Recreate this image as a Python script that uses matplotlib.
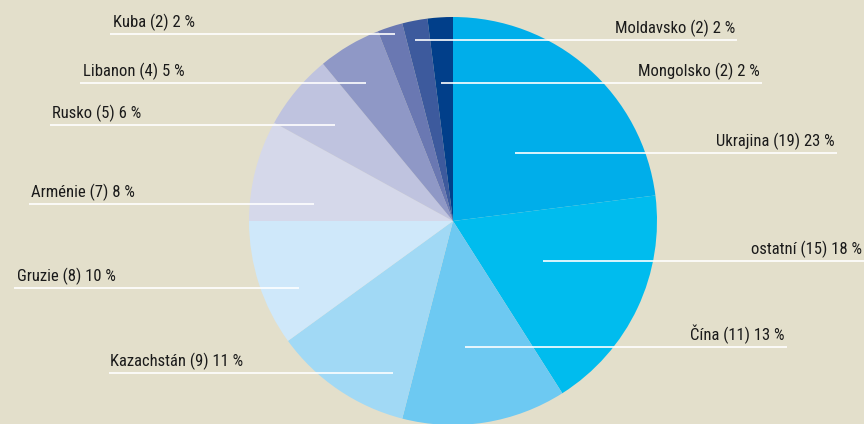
import matplotlib.pyplot as plt

# countries, counts and shares as printed on the chart
countries = ['Ukrajina', 'ostatní', 'Čína', 'Kazachstán', 'Gruzie', 'Arménie',
             'Rusko', 'Libanon', 'Kuba', 'Moldavsko', 'Mongolsko']
counts = [19, 15, 11, 9, 8, 7, 5, 4, 2, 2, 2]
shares = [23, 18, 13, 11, 10, 8, 6, 5, 2, 2, 2]

colors = ['#00AEEA', '#00BCEE', '#6DC9F2', '#A1D9F5', '#CFE8FA', '#D5D8EA',
          '#BFC3DF', '#8F98C6', '#6A78B2', '#3D5A9D', '#013F8A']

# label layout in pixels: (text anchor x, line y, line start x, line end x, align)
label_pos = {
    'Ukrajina':   (835, 153, 515, 837, 'right'),
    'ostatní':    (862, 261, 543, 864, 'right'),
    'Čína':       (785, 347, 465, 787, 'right'),
    'Kazachstán': (110, 373, 109, 393, 'left'),
    'Gruzie':     (17, 288, 14, 299, 'left'),
    'Arménie':    (31, 204, 29, 314, 'left'),
    'Rusko':      (52, 125, 50, 335, 'left'),
    'Libanon':    (83, 83, 80, 366, 'left'),
    'Kuba':       (113, 34, 110, 395, 'left'),
    'Moldavsko':  (735, 40, 415, 737, 'right'),
    'Mongolsko':  (760, 83, 441, 762, 'right'),
}

W, H = 864, 424
bg = '#E3DFCB'
fam = ['Roboto Condensed', 'Liberation Sans Narrow', 'Liberation Sans']

fig = plt.figure(figsize=(W / 100, H / 100), dpi=100, facecolor=bg)
ax = fig.add_axes([0, 0, 1, 1])
ax.set_facecolor(bg)

# the wedges follow the printed percentages (they add to 100)
ax.pie(shares, colors=colors, startangle=90, counterclock=False,
       center=(453, H - 221), radius=204, frame=True,
       wedgeprops=dict(linewidth=0))

for name, n, p in zip(countries, counts, shares):
    tx, ly, x0, x1, ha = label_pos[name]
    ax.plot([x0, x1], [H - ly, H - ly], color='white', lw=1.4, alpha=0.85,
            solid_capstyle='butt')
    ax.text(tx, H - ly + 7, f'{name} ({n}) {p} %', ha=ha, va='baseline',
            fontsize=12, family=fam, color='#1a1a1a')

ax.set_xlim(0, W)
ax.set_ylim(0, H)
ax.set_aspect('equal')
ax.axis('off')

fig.savefig('out.png', dpi=100, facecolor=bg)
